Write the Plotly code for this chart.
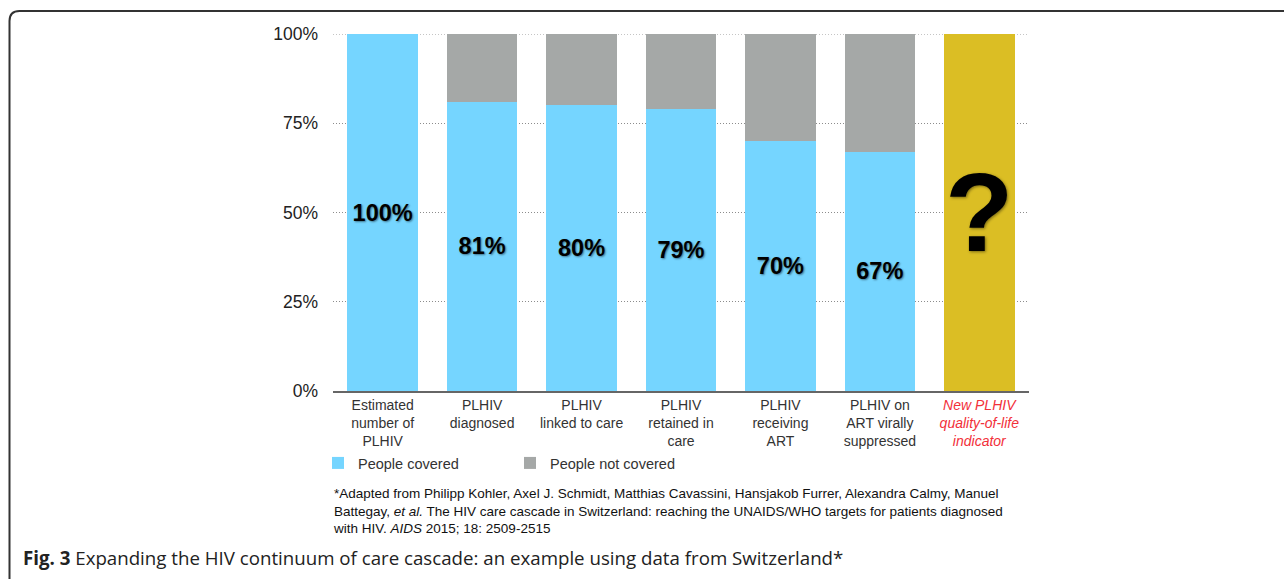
import plotly.graph_objects as go

categories = [
    "Estimated<br>number of<br>PLHIV",
    "PLHIV<br>diagnosed",
    "PLHIV<br>linked to care",
    "PLHIV<br>retained in<br>care",
    "PLHIV<br>receiving<br>ART",
    "PLHIV on<br>ART virally<br>suppressed",
    "<span style='color:#F2303A'><i>New PLHIV<br>quality-of-life<br>indicator</i></span>",
]
covered = [100, 81, 80, 79, 70, 67, None]
not_covered = [0, 19, 20, 21, 30, 33, None]
qol = [None, None, None, None, None, None, 100]
qol_text = ["", "", "", "", "", "", "?"]
y_ticks = [0, 25, 50, 75, 100]
y_tick_labels = ["0%", "25%", "50%", "75%", "100%"]

W, H = 1284, 580
L, R, T, B = 333, 255, 34, 189
PW, PH = W - L - R, H - T - B


def px(x):
    return (x - L) / PW


def py(y):
    return (H - B - y) / PH


FONT = "Liberation Sans, Arial, Helvetica, sans-serif"
x_idx = list(range(len(categories)))

fig = go.Figure()
fig.add_trace(go.Bar(
    x=x_idx, y=covered, name="People covered",
    marker=dict(color="#75D5FF", line=dict(width=0)),
    text=[f"{v}%" if v is not None else "" for v in covered],
    textposition="inside", insidetextanchor="middle", constraintext="none",
    textfont=dict(family=FONT, size=23.5, color="#000000", weight="bold",
                  shadow="1px 1px 2px rgba(0,0,0,0.45)"),
    hoverinfo="skip",
))
fig.add_trace(go.Bar(
    x=x_idx, y=not_covered, name="People not covered",
    marker=dict(color="#A5A8A7", line=dict(width=0)),
    textposition="none", hoverinfo="skip",
))
fig.add_trace(go.Bar(
    x=x_idx, y=qol, name="New indicator", showlegend=False,
    marker=dict(color="#DBBE24", line=dict(width=0)),
    text=qol_text, textposition="inside", insidetextanchor="middle",
    constraintext="none",
    textfont=dict(family=FONT, size=112, color="#000000", weight="bold",
                  shadow="1px 1px 3px rgba(0,0,0,0.45)"),
    hoverinfo="skip",
))

fig.update_layout(
    width=W, height=H,
    margin=dict(l=L, r=R, t=T, b=B, autoexpand=False),
    barmode="stack", bargap=0.29,
    paper_bgcolor="white", plot_bgcolor="white",
    font=dict(family=FONT, size=14, color="#333333"),
    showlegend=True,
    legend=dict(
        orientation="h", traceorder="normal",
        x=px(318), xanchor="left", y=py(463), yanchor="middle",
        font=dict(family=FONT, size=14.5, color="#333333"),
        entrywidth=147, entrywidthmode="pixels",
        itemclick=False, itemdoubleclick=False,
        bgcolor="rgba(0,0,0,0)",
    ),
    xaxis=dict(
        tickmode="array", tickvals=x_idx, ticktext=categories,
        range=[-0.5, len(categories) - 0.5],
        showline=True, linecolor="#666666", linewidth=2,
        showgrid=False, zeroline=False, ticks="",
        tickfont=dict(family=FONT, size=14, color="#333333"),
        fixedrange=True,
    ),
    yaxis=dict(
        range=[0, 100], tickmode="array", tickvals=y_ticks, ticktext=y_tick_labels,
        showgrid=True, gridcolor="#8C8C8C", griddash="1px,2px",
        gridwidth=1, zeroline=False, showline=False, ticks="",
        ticklabelstandoff=14,
        tickfont=dict(family=FONT, size=17.5, color="#222222"),
        fixedrange=True,
    ),
)

# top gridline (plotly drops the gridline lying on the plot edge)
fig.add_shape(
    type="line", xref="paper", yref="y", x0=0, x1=1, y0=y_ticks[-1], y1=y_ticks[-1],
    line=dict(color="#8C8C8C", width=1, dash="1px,2px"), layer="below",
)

# frame around the figure (rounded top-left corner, open on the right)
fig.add_shape(
    type="path", xref="paper", yref="paper",
    path=(f"M {px(9.5)},{py(579)} L {px(9.5)},{py(21)} "
          f"Q {px(9.5)},{py(11)} {px(19.5)},{py(11)} L {px(1290)},{py(11)}"),
    line=dict(color="#333333", width=2), layer="above",
)

fig.add_annotation(
    xref="paper", yref="paper", x=px(331), y=py(484),
    xanchor="left", yanchor="top", align="left", showarrow=False,
    text=("*Adapted from Philipp Kohler, Axel J. Schmidt, Matthias Cavassini, Hansjakob Furrer, Alexandra Calmy, Manuel<br>"
          "Battegay, <i>et al.</i> The HIV care cascade in Switzerland: reaching the UNAIDS/WHO targets for patients diagnosed<br>"
          "with HIV. <i>AIDS</i> 2015; 18: 2509-2515"),
    font=dict(family=FONT, size=13.5, color="#111111"),
)
fig.add_annotation(
    xref="paper", yref="paper", x=px(21), y=py(557),
    xanchor="left", yanchor="middle", align="left", showarrow=False,
    text="<b>Fig. 3</b> Expanding the HIV continuum of care cascade: an example using data from Switzerland*",
    font=dict(family="Open Sans, sans-serif", size=18.7, color="#222222"),
)

fig.write_html(
    "out.html",
    config={"displayModeBar": False, "staticPlot": True},
    post_script="document.body.style.margin='0px';document.body.style.overflow='hidden';",
)
